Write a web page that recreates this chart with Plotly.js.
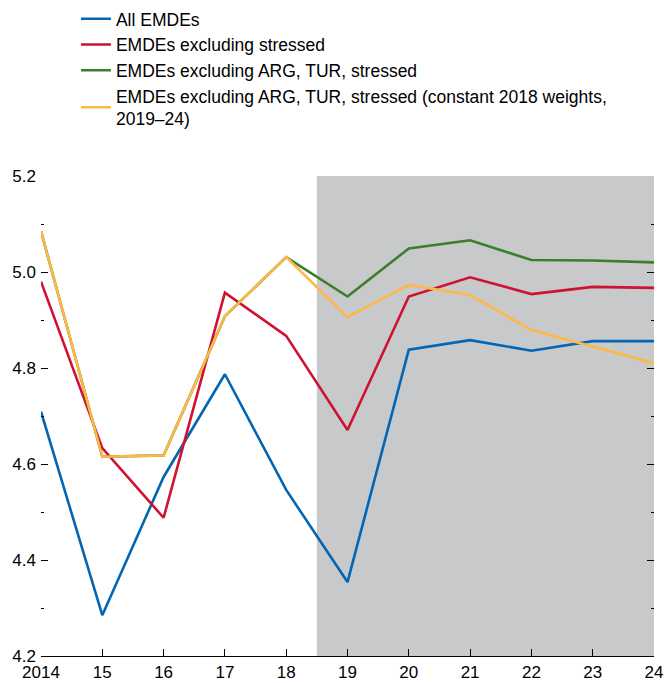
<!DOCTYPE html>
<html>
<head>
<meta charset="utf-8">
<script src="https://cdn.plot.ly/plotly-3.0.1.min.js"></script>
<style>html,body{margin:0;padding:0;background:#fff;}#chart{width:665px;height:683px;}</style>
</head>
<body>
<div id="chart"></div>
<script>
const years = [2014, 2015, 2016, 2017, 2018, 2019, 2020, 2021, 2022, 2023, 2024];
const tickLabels = ["2014", "15", "16", "17", "18", "19", "20", "21", "22", "23", "24"];
const allEMDEs = [4.709, 4.285, 4.573, 4.787, 4.546, 4.354, 4.838, 4.858, 4.836, 4.856, 4.856];
const exStressed = [4.980, 4.633, 4.488, 4.957, 4.867, 4.671, 4.949, 4.989, 4.954, 4.969, 4.967];
const exArgTurStressed = [5.085, 4.615, 4.618, 4.908, 5.031, 4.949, 5.049, 5.066, 5.025, 5.024, 5.020];
const exArgTurStressedConst = [5.085, 4.615, 4.618, 4.908, 5.031, 4.906, 4.973, 4.952, 4.879, 4.844, 4.810];
const seriesNames = [
  "All EMDEs",
  "EMDEs excluding stressed",
  "EMDEs excluding ARG, TUR, stressed",
  "EMDEs excluding ARG, TUR, stressed (constant 2018 weights,<br>2019\u201324)"
];
const forecastStart = 2018.5;
const forecastEnd = 2024;

const colors = ["#0466b3", "#cf1132", "#3b7e2b", "#fdb848"];
const font = "'Liberation Sans', Arial, sans-serif";

const traces = [allEMDEs, exStressed, exArgTurStressed, exArgTurStressedConst].map((ys, i) => ({
  x: years, y: ys, type: "scatter", mode: "lines", name: seriesNames[i],
  line: {color: colors[i], width: 2.6}
}));

const layout = {
  width: 665, height: 683,
  margin: {l: 41, r: 11, t: 176, b: 27, autoexpand: false},
  paper_bgcolor: "#fff", plot_bgcolor: "#fff",
  font: {family: font, size: 17, color: "#000"},
  showlegend: true,
  legend: {x: 0.057, y: 1.365, xanchor: "left", yanchor: "top",
           font: {family: font, size: 17.5, color: "#000"}, tracegroupgap: 0,
           bgcolor: "rgba(0,0,0,0)"},
  xaxis: {range: [2014, 2024], tickvals: years, ticktext: tickLabels, showgrid: false, zeroline: false,
          showline: true, linecolor: "#000", linewidth: 1.2, ticks: "inside", ticklen: 7, tickcolor: "#000",
          tickfont: {family: font, size: 17}},
  yaxis: {range: [4.2, 5.2], dtick: 0.2, tick0: 4.2, tickformat: ".1f", showgrid: false, zeroline: false,
          showline: false, ticks: "inside", ticklen: 7, tickcolor: "#000", mirror: "ticks",
          tickfont: {family: font, size: 17}, ticklabelstandoff: 4,
          minor: {dtick: 0.1, ticks: "inside", ticklen: 3, tickcolor: "#000", showgrid: false}},
  shapes: [{type: "rect", xref: "x", yref: "paper", x0: forecastStart, x1: forecastEnd, y0: 0, y1: 1,
            fillcolor: "#c8c9cb", line: {width: 0}, layer: "below"}]
};

Plotly.newPlot("chart", traces, layout, {displayModeBar: false, staticPlot: true});
</script>
</body>
</html>
